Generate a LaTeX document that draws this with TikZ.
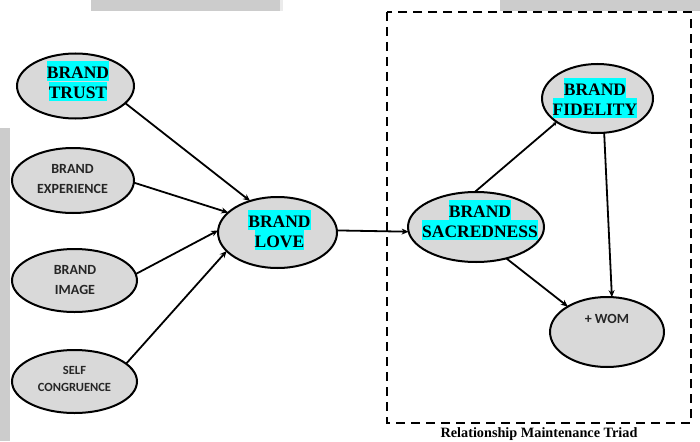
\documentclass[tikz,border=0pt]{standalone}
\usepackage{fontspec}
\setmainfont{Liberation Serif}
\newfontfamily\labelsans{Carlito}
\usetikzlibrary{shapes.geometric,arrows.meta}

\definecolor{ovalfill}{HTML}{D9D9D9}
\definecolor{barfill}{HTML}{CCCCCC}
\definecolor{marker}{HTML}{00FFFF}

% cyan highlight behind one line of a construct name
\newcommand\hilite[1]{{\setlength{\fboxsep}{0pt}\colorbox{marker}{\rule[-2.5pt]{0pt}{20pt}#1}}}

\tikzset{
  oval/.style={ellipse, draw=black, line width=2pt, fill=ovalfill, inner sep=0pt, outer sep=0pt},
  serifname/.style={inner sep=0pt, align=center, font=\fontsize{17.5}{20}\selectfont\bfseries},
  sansname/.style={inner sep=0pt, align=center, text=black!85, font=\labelsans\fontsize{14}{20}\selectfont\bfseries},
  smallsans/.style={sansname, font=\labelsans\fontsize{12.5}{17}\selectfont\bfseries},
  link/.style={line width=1.8pt, -{Stealth[length=7pt,width=6pt]}},
  tinylink/.style={line width=1.8pt, -{Stealth[length=4pt,width=4pt]}},
}

\begin{document}
\begin{tikzpicture}[x=1pt,y=-1pt]
\useasboundingbox (0,0) rectangle (700,441);

% grey strips along the edges
\fill[barfill] (91,0) rectangle (280,11);
\fill[barfill!40] (280,0) rectangle (283,11);
\fill[barfill] (500,0) rectangle (700,11);
\fill[barfill] (0,128) rectangle (10,441);

% relationship maintenance triad frame
\draw[line width=2pt, dash pattern=on 9pt off 6pt] (387,12) rectangle (691,423);
\node[anchor=base, inner sep=0pt, font=\fontsize{14.25}{16}\selectfont\bfseries] (triad) at (539,437.5) {Relationship Maintenance Triad};

% antecedents
\node[oval, minimum width=117pt, minimum height=65pt] (trust) at (75.5,86) {};
\node[oval, minimum width=122pt, minimum height=65pt] (exper) at (73,180.5) {};
\node[oval, minimum width=125pt, minimum height=63pt] (image) at (74.5,280.5) {};
\node[oval, minimum width=125pt, minimum height=63pt] (selfc) at (74.5,381.5) {};

% brand love
\node[oval, minimum width=119pt, minimum height=71pt] (love) at (277.5,232.5) {};

% triad constructs
\node[oval, minimum width=111pt, minimum height=69pt] (fidel) at (597.5,98.5) {};
\node[oval, minimum width=136pt, minimum height=70pt] (sacred) at (476,227) {};
\node[oval, minimum width=114pt, minimum height=70pt] (wom) at (607,332) {};

% names
\node[serifname] (trustT) at (78,81.5) {\hilite{BRAND}\\\hilite{TRUST}};
\node[sansname] (experT) at (72.5,179.5) {BRAND\\EXPERIENCE};
\node[sansname] (imageT) at (75,280) {BRAND\\IMAGE};
\node[smallsans] (selfcT) at (74.5,379) {SELF\\CONGRUENCE};
\node[serifname] (loveT) at (279.5,230) {\hilite{BRAND}\\\hilite{LOVE}};
\node[serifname] (fidelT) at (595,98) {\hilite{BRAND}\\\hilite{FIDELITY}};
\node[serifname] (sacredT) at (480,219.5) {\hilite{BRAND}\\\hilite{SACREDNESS}};
\node[sansname] (womT) at (607,318.5) {+ WOM};

% paths
\draw[link] (trust.-19) -- (love.131);
\draw[link] (exper.-2) -- (love.158);
\draw[link] (image.6) -- (love.178);
\draw[link] (selfc.19) -- (love.200);
\draw[link] (love.2) -- (sacred.184);
\draw[tinylink] (sacred.92) -- (fidel.210);
\draw[link] (fidel.-79) -- (wom.82);
\draw[link] (sacred.-46) -- (wom.147);
\end{tikzpicture}
\end{document}
